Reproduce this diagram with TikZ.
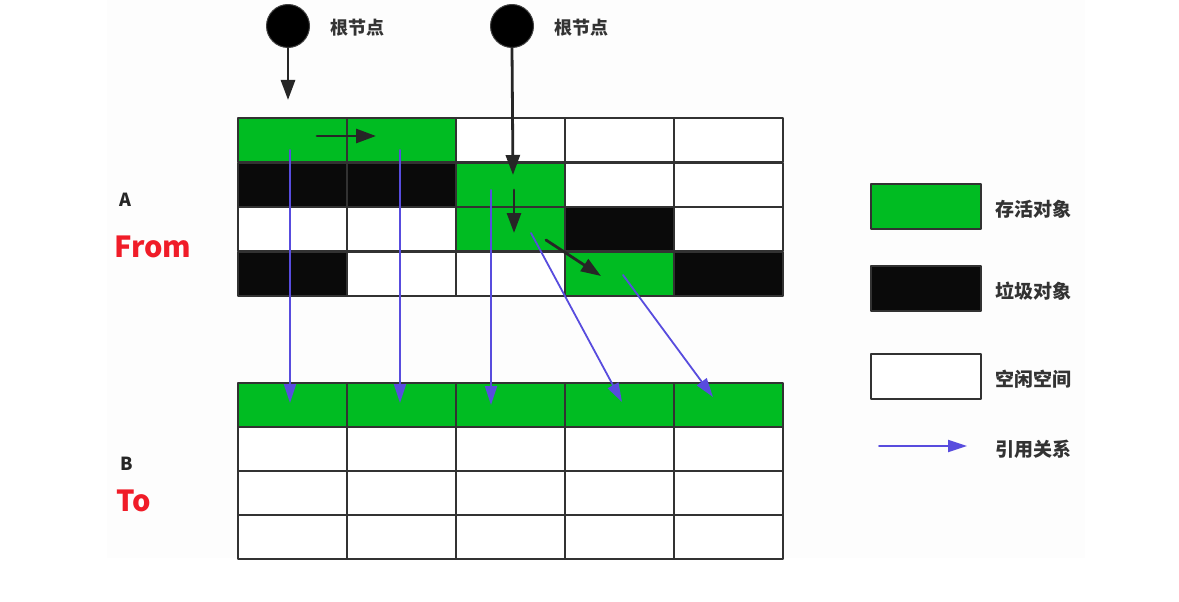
\documentclass[tikz,border=0pt]{standalone}
\usepackage{fontspec}
\newfontfamily\cjk{Noto Sans CJK SC}
\usetikzlibrary{arrows.meta,positioning}
\definecolor{livegreen}{RGB}{0,188,34}
\definecolor{junkblack}{RGB}{10,10,10}
\definecolor{gridgray}{RGB}{50,50,50}
\definecolor{refblue}{RGB}{88,76,222}
\definecolor{tagred}{RGB}{240,28,40}
\definecolor{textgray}{RGB}{51,51,51}
\definecolor{bgfaint}{RGB}{253,253,253}
\tikzset{
	cell/.style={draw=gridgray,line width=2pt,minimum width=109pt,minimum height=44.3pt,anchor=north west,inner sep=0pt},
	live/.style={fill=livegreen},
	junk/.style={fill=junkblack},
	idle/.style={fill=white},
	keybox/.style={draw=gridgray,line width=2pt,minimum width=110pt,minimum height=45pt,inner sep=0pt},
	root/.style={circle,fill=black,draw=black!75,line width=1pt,minimum size=43pt,inner sep=0pt},
	ref/.style={draw=refblue,line width=1.8pt,-{Triangle[length=19pt,width=12pt]}},
	hop/.style={draw=black!85,line width=2.8pt,-{Triangle[length=20pt,width=14pt]}},
	tag/.style={font=\cjk\bfseries\fontsize{18}{18}\selectfont,text=textgray,inner sep=0pt},
	keytag/.style={font=\cjk\bfseries\fontsize{19}{19}\selectfont,text=textgray,inner sep=0pt,right=14pt of #1,yshift=-3pt},
}
\begin{document}
\begin{tikzpicture}[x=1pt,y=-1pt,line join=round,line cap=round]
	\useasboundingbox (0,0) rectangle (1179,602);
	\fill[bgfaint] (107,0) rectangle (1085,558);
	% space A
	\foreach \k [count=\i from 0] in {live,live,idle,idle,idle,junk,junk,live,idle,idle,idle,idle,live,junk,idle,junk,idle,idle,live,junk}{
		\pgfmathtruncatemacro\r{div(\i,5)}
		\pgfmathtruncatemacro\c{mod(\i,5)}
		\node[cell,\k] (a\r\c) at ({237+109*\c},{117+44.5*\r}) {};
	}
	% space B
	\foreach \r/\k in {0/live,1/idle,2/idle,3/idle}
	\foreach \c in {0,...,4}\node[cell,\k,minimum height=44pt] (b\r\c) at ({237+109*\c},{382+44*\r}) {};
	\node[font=\cjk\bfseries\fontsize{18}{18}\selectfont,text=black!85,anchor=west,inner sep=0pt] (la) at (119,200) {A};
	\node[font=\cjk\bfseries\fontsize{29}{29}\selectfont,text=tagred,anchor=west,inner sep=0pt] (lfrom) at (114,247) {From};
	\node[font=\cjk\bfseries\fontsize{18}{18}\selectfont,text=black!85,anchor=west,inner sep=0pt] (lb) at (120,464) {B};
	\node[font=\cjk\bfseries\fontsize{29}{29}\selectfont,text=tagred,anchor=west,inner sep=0pt] (lto) at (116,501) {To};
	% roots
	\node[root] (r1) at (288,26) {};
	\node[root] (r2) at (512,26) {};
	\node[tag,right=20pt of r1,yshift=-2pt] (n1) {根节点};
	\node[tag,right=20pt of r2,yshift=-2pt] (n2) {根节点};
	\path
	(288,100) coordinate (t1)
	(513,175) coordinate (t2)
	(317,136) coordinate (h1s) (376,136) coordinate (h1e)
	(514,190) coordinate (h2s) (514,233) coordinate (h2e)
	(546,240) coordinate (h3s) (601,276) coordinate (h3e)
	;
	\draw[hop] (r1)--(t1);
	\draw[hop] (r2.south)--(t2);
	\foreach \s/\e in {h1s/h1e,h2s/h2e,h3s/h3e}\draw[hop] (\s)--(\e);
	% copies
	\path
	(290,150) coordinate (u1) (290,403) coordinate (v1)
	(400,150) coordinate (u2) (400,403) coordinate (v2)
	(491,190) coordinate (u3) (491,405) coordinate (v3)
	(531,233) coordinate (u4) (622,402) coordinate (v4)
	(623,275) coordinate (u5) (713,397) coordinate (v5)
	;
	\foreach \j in {1,...,5}\draw[ref] (u\j)--(v\j);
	% legend
	\node[keybox,fill=livegreen] (k1) at (925.5,206) {};
	\node[keybox,fill=junkblack] (k2) at (925.5,288) {};
	\node[keybox,fill=white] (k3) at (925.5,376) {};
	\node[keytag=k1] {存活对象};
	\node[keytag=k2] {垃圾对象};
	\node[keytag=k3] {空闲空间};
	\path (879,446) coordinate (k4s) (967,446) coordinate (k4e);
	\draw[ref] (k4s)--(k4e);
	\node[keytag=k4e,right=28pt of k4e] {引用关系};
\end{tikzpicture}
\end{document}
